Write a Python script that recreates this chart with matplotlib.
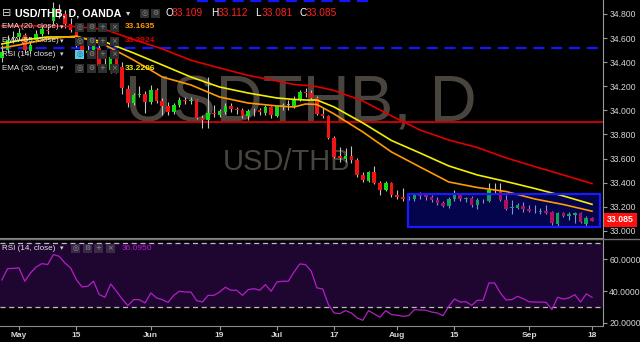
#!/usr/bin/env python3
"""
USD/THB daily candles with EMA 20/30/55 and RSI(14) - dark chart recreation
"""

import numpy as np
import pandas as pd
import matplotlib
matplotlib.use("Agg")
import matplotlib.pyplot as plt
from matplotlib.patches import Rectangle
from matplotlib.lines import Line2D

plt.rcParams['font.family'] = ['Liberation Sans', 'DejaVu Sans']

# trading days shown (weekdays)
dates = pd.bdate_range('2017-04-26', '2017-09-18')

opens = [34.435, 34.501, 34.601, 34.609, 34.626, 34.493, 34.584, 34.634, 34.667, 34.742,
         34.842, 34.800, 34.717, 34.667, 34.551, 34.476, 34.485, 34.518, 34.369, 34.335,
         34.443, 34.360, 34.178, 34.061, 34.128, 34.136, 34.070, 34.169, 34.078, 34.037,
         33.987, 34.045, 34.086, 34.078, 34.086, 33.937, 33.920, 33.978, 33.962, 33.987,
         34.037, 34.012, 34.003, 33.954, 33.991, 34.003, 33.978, 34.028, 33.954, 34.037,
         34.045, 34.037, 34.086, 34.153, 34.144, 34.103, 33.970, 33.954, 33.771, 33.622,
         33.597, 33.622, 33.588, 33.464, 33.414, 33.489, 33.397, 33.339, 33.397, 33.298,
         33.281, 33.265, 33.265, 33.298, 33.294, 33.281, 33.256, 33.232, 33.207, 33.265,
         33.298, 33.265, 33.273, 33.215, 33.252, 33.248, 33.339, 33.339, 33.256, 33.190,
         33.190, 33.207, 33.182, 33.169, 33.153, 33.165, 33.157, 33.057, 33.149, 33.124,
         33.132, 33.149, 33.057, 33.109]
highs = [34.543, 34.626, 34.659, 34.684, 34.642, 34.568, 34.667, 34.700, 34.709, 34.900,
         34.883, 34.833, 34.767, 34.692, 34.601, 34.559, 34.551, 34.551, 34.435, 34.468,
         34.468, 34.402, 34.211, 34.144, 34.203, 34.161, 34.211, 34.186, 34.103, 34.070,
         34.061, 34.111, 34.111, 34.111, 34.095, 33.962, 34.277, 34.045, 34.012, 34.061,
         34.061, 34.028, 34.020, 34.012, 34.020, 34.020, 34.045, 34.037, 34.045, 34.061,
         34.086, 34.119, 34.169, 34.186, 34.169, 34.119, 34.020, 33.962, 33.788, 33.696,
         33.688, 33.705, 33.605, 33.489, 33.497, 33.539, 33.414, 33.414, 33.406, 33.339,
         33.356, 33.290, 33.315, 33.323, 33.315, 33.298, 33.281, 33.248, 33.281, 33.339,
         33.315, 33.281, 33.290, 33.273, 33.265, 33.397, 33.397, 33.397, 33.298, 33.256,
         33.232, 33.240, 33.215, 33.215, 33.190, 33.215, 33.165, 33.157, 33.157, 33.157,
         33.157, 33.157, 33.124, 33.112]
lows = [34.402, 34.476, 34.559, 34.584, 34.476, 34.468, 34.568, 34.617, 34.634, 34.717,
        34.767, 34.684, 34.651, 34.526, 34.476, 34.460, 34.468, 34.327, 34.319, 34.310,
        34.310, 34.136, 34.028, 34.045, 34.111, 33.978, 34.053, 34.061, 33.962, 33.962,
        33.970, 34.028, 34.053, 34.053, 33.929, 33.854, 33.854, 33.945, 33.945, 33.970,
        33.987, 33.970, 33.937, 33.920, 33.954, 33.962, 33.962, 33.937, 33.945, 34.003,
        34.003, 34.020, 34.078, 34.111, 34.095, 33.962, 33.937, 33.763, 33.605, 33.572,
        33.572, 33.564, 33.447, 33.406, 33.406, 33.389, 33.298, 33.331, 33.281, 33.265,
        33.248, 33.256, 33.248, 33.265, 33.256, 33.240, 33.215, 33.198, 33.190, 33.248,
        33.248, 33.240, 33.198, 33.182, 33.232, 33.240, 33.315, 33.248, 33.173, 33.140,
        33.182, 33.157, 33.157, 33.149, 33.140, 33.140, 33.049, 33.032, 33.115, 33.090,
        33.066, 33.066, 33.041, 33.081]
closes = [34.485, 34.584, 34.609, 34.642, 34.501, 34.543, 34.634, 34.676, 34.659, 34.850,
          34.808, 34.717, 34.667, 34.543, 34.493, 34.493, 34.534, 34.369, 34.352, 34.443,
          34.369, 34.186, 34.061, 34.128, 34.136, 34.070, 34.169, 34.078, 34.037, 33.987,
          34.045, 34.086, 34.078, 34.086, 33.937, 33.920, 33.978, 33.970, 33.995, 34.037,
          34.012, 34.003, 33.954, 33.995, 33.999, 33.987, 34.028, 33.962, 34.037, 34.045,
          34.045, 34.095, 34.153, 34.144, 34.103, 33.970, 33.954, 33.771, 33.613, 33.605,
          33.622, 33.588, 33.464, 33.422, 33.489, 33.397, 33.339, 33.397, 33.298, 33.281,
          33.265, 33.273, 33.298, 33.290, 33.281, 33.256, 33.232, 33.207, 33.265, 33.306,
          33.265, 33.269, 33.215, 33.256, 33.244, 33.339, 33.335, 33.256, 33.182, 33.194,
          33.215, 33.178, 33.169, 33.161, 33.165, 33.149, 33.066, 33.149, 33.124, 33.140,
          33.149, 33.074, 33.107, 33.085]

rsi = [47.0, 54.1, 54.3, 54.6, 46.2, 51.4, 55.2, 57.3, 56.7, 63.0,
       61.9, 57.7, 54.6, 47.2, 42.6, 43.0, 46.2, 37.8, 36.1, 44.5,
       39.9, 35.0, 30.8, 34.6, 34.6, 32.5, 38.8, 35.7, 34.6, 32.9,
       37.3, 39.9, 39.4, 39.4, 34.0, 33.1, 37.3, 37.3, 39.4, 42.4,
       40.5, 40.5, 37.3, 40.9, 41.5, 40.5, 44.1, 39.9, 45.7, 46.2,
       46.2, 52.0, 57.1, 56.7, 52.5, 42.0, 41.3, 31.5, 26.2, 25.8,
       27.7, 26.2, 23.1, 21.6, 27.7, 25.6, 23.5, 27.7, 25.2, 24.8,
       24.1, 24.5, 28.3, 28.1, 27.9, 26.8, 26.2, 24.5, 30.4, 35.0,
       33.1, 33.3, 31.0, 34.2, 34.2, 45.1, 45.1, 38.8, 34.4, 34.6,
       36.7, 35.2, 33.3, 33.1, 33.1, 32.9, 28.3, 36.1, 35.0, 35.7,
       37.8, 33.1, 38.2, 36.095]

# EMA values at these dates
ema_dates = ['2017-04-26', '2017-05-01', '2017-05-08', '2017-05-15', '2017-05-22',
             '2017-05-29', '2017-06-05', '2017-06-12', '2017-06-19', '2017-06-26',
             '2017-07-03', '2017-07-06', '2017-07-10', '2017-07-12', '2017-07-17',
             '2017-07-24', '2017-07-31', '2017-08-07', '2017-08-14', '2017-08-21',
             '2017-08-28', '2017-09-04', '2017-09-11', '2017-09-18']
ema20 = [34.518, 34.543, 34.593, 34.617, 34.543, 34.418, 34.277, 34.211, 34.111, 34.061,
         34.037, 34.028, 34.053, 34.049, 33.970, 33.821, 33.655, 33.530, 33.406, 33.360,
         33.327, 33.265, 33.219, 33.1635]
ema30 = [34.551, 34.580, 34.609, 34.609, 34.568, 34.476, 34.377, 34.277, 34.194, 34.144,
         34.103, 34.091, 34.086, 34.086, 34.028, 33.896, 33.750, 33.646, 33.539, 33.464,
         33.410, 33.352, 33.290, 33.2206]
ema55 = [34.701, 34.701, 34.701, 34.696, 34.671, 34.588, 34.510, 34.416, 34.352, 34.290,
         34.244, 34.215, 34.207, 34.197, 34.165, 34.078, 33.954, 33.837, 33.754, 33.692,
         33.606, 33.534, 33.464, 33.3924]

# drawings
level_red = 33.90
level_dash = 34.515
level_dash_top = 34.908
dash_top_span = (34.1, 63.9)        # bar index span of the short top line
box_span = (70.9, 104.4)            # bar index span of the range box
box_low, box_high = 33.032, 33.306

tick_dates = ['2017-05-01', '2017-05-15', '2017-06-01', '2017-06-19', '2017-07-03',
              '2017-07-17', '2017-08-01', '2017-08-15', '2017-09-01', '2017-09-18']
tick_labels = ['May', '15', 'Jun', '19', 'Jul', '17', 'Aug', '15', 'Sep', '18']

W, H = 640, 342
BG = '#000000'
TXT = '#d6d6d6'


def fx(x):
    return x / W


def fy(y):
    return 1 - y / H


fig = plt.figure(figsize=(6.4, 3.42), dpi=100, facecolor=BG)
ax = fig.add_axes([0, fy(238), fx(603), 238 / H])
ax2 = fig.add_axes([0, fy(326), fx(603), (326 - 239) / H])
for a in (ax, ax2):
    a.set_facecolor(BG)
    a.spines['left'].set_visible(False)
    a.spines['top'].set_visible(False)
    a.spines['right'].set_color('#9a9a9a')
    a.spines['bottom'].set_color('#8a8a8a')
    a.yaxis.tick_right()
    a.tick_params(axis='y', colors='#9a9a9a', labelcolor=TXT, labelsize=6.2,
                  length=3, width=0.8, pad=1.5)
    a.set_xlim(-0.32, 104.92)

x = np.arange(len(dates))
o = np.array(opens)
c = np.array(closes)

# ---- main pane ----
ax.set_ylim(32.941, 34.916)
ax.set_yticks(np.arange(33.0, 34.81, 0.2))
ax.set_yticklabels([f'{v:.3f}' for v in np.arange(33.0, 34.81, 0.2)])
ax.tick_params(axis='x', bottom=False, labelbottom=False)

# watermark
ax.text(fx(301) / fx(603), 1 - 121 / 238, 'USDTHB, D', transform=ax.transAxes,
        ha='center', va='baseline', fontsize=47, color='#49453e', zorder=0)
ax.text(fx(287) / fx(603), 1 - 170 / 238, 'USD/THB', transform=ax.transAxes,
        ha='center', va='baseline', fontsize=21, color='#49453e', zorder=0)

# horizontal drawings
ax.axhline(level_red, color='#d40000', lw=1.3, zorder=2)
ax.axhline(level_dash, color='#1414ff', lw=1.6, ls=(0, (5, 3)), zorder=2)
ax.hlines(level_dash_top, *dash_top_span, color='#1414ff', lw=1.6,
          ls=(0, (5, 3)), zorder=2)

# candles
col = np.where(c > o, '#12dd12', np.where(c < o, '#f01414', '#a0a0a0'))
ax.vlines(x, lows, highs, color='#c4c4c4', lw=0.8, zorder=3)
body = np.maximum(np.abs(c - o), 0.006)
ax.bar(x, body, bottom=np.minimum(o, c), width=0.62, color=col, zorder=4)

# range box over the candles
ax.add_patch(Rectangle((box_span[0], box_low), box_span[1] - box_span[0],
                       box_high - box_low, facecolor='#1010ff', alpha=0.3,
                       edgecolor='none', zorder=5))
ax.add_patch(Rectangle((box_span[0], box_low), box_span[1] - box_span[0],
                       box_high - box_low, facecolor='none',
                       edgecolor='#1a1aff', lw=1.6, zorder=7))

# EMAs
ex = [dates.get_loc(pd.Timestamp(d)) for d in ema_dates]
ax.plot(ex, ema55, color='#e00000', lw=1.2, zorder=6)
ax.plot(ex, ema30, color='#f5ef00', lw=1.2, zorder=6)
ax.plot(ex, ema20, color='#ff9a00', lw=1.2, zorder=6)

# ---- RSI pane ----
ax2.set_ylim(18.0, 72.8)
ax2.axhspan(30, 70, color='#1e0630', zorder=0)
ax2.axhline(70, color='#bdbdbd', lw=0.9, ls=(0, (4, 3)), zorder=1)
ax2.axhline(30, color='#bdbdbd', lw=0.9, ls=(0, (4, 3)), zorder=1)
ax2.plot(x, rsi, color='#b41ec8', lw=0.9, zorder=3)
ax2.set_yticks([20, 40, 60])
ax2.set_yticklabels(['20.0000', '40.0000', '60.0000'])
tpos = [dates.get_loc(pd.Timestamp(d)) for d in tick_dates]
ax2.set_xticks(tpos)
ax2.set_xticklabels(tick_labels, fontweight='bold')
ax2.tick_params(axis='x', colors='#9a9a9a', labelcolor=TXT, labelsize=6,
                length=3, width=0.8, pad=1.5)

# pane separator
fig.add_artist(Line2D([0, 1], [fy(238.5), fy(238.5)], color='#707070', lw=1))

# last price tag
fig.add_artist(Rectangle((fx(604), fy(227)), 33 / W, 14 / H, facecolor='#ff1010',
                         edgecolor='none', transform=fig.transFigure))
fig.text(fx(620.5), fy(220), '33.085', color='white', fontsize=6.3,
         fontweight='bold', ha='center', va='center')


# ---- legends ----
def icon(xp, yp, glyph, bg='#2f2f2f', fg='#8c8c8c'):
    fig.add_artist(Rectangle((fx(xp), fy(yp + 4.5)), 9 / W, 9 / H, facecolor=bg,
                             edgecolor='none', transform=fig.transFigure, zorder=8))
    fig.text(fx(xp + 4.5), fy(yp), glyph, color=fg, fontsize=5, ha='center',
             va='center', family='DejaVu Sans', zorder=9)


fig.text(fx(2), fy(13), '\u229f', color=TXT, fontsize=8, va='center',
         family='DejaVu Sans')
fig.text(fx(15), fy(13), 'USD/THB, D, OANDA', color='white', fontsize=7.7,
         fontweight='bold', va='center')
fig.text(fx(126), fy(13), '\u25be', color=TXT, fontsize=6, va='center',
         family='DejaVu Sans')
icon(140, 13, '\u25ce')
icon(151, 13, '\u2699')
ohlc = [('O', '33.109', 165), ('H', '33.112', 211), ('L', '33.081', 255),
        ('C', '33.085', 299)]
for k, v, xp in ohlc:
    fig.text(fx(xp), fy(13), k, color='white', fontsize=7.3, va='center')
    fig.text(fx(xp + 7), fy(13), v, color='#ff2020', fontsize=7.3, va='center')

studies = [('EMA (20, close)', '33.1635', '#ff9a00', 27, False),
           ('EMA (55, close)', '33.3924', '#e00000', 41, False),
           ('RSI (14, close)', '', '', 54, True),
           ('EMA (30, close)', '33.2206', '#f5ef00', 68, False)]
for name, val, vc, yp, hl in studies:
    fig.text(fx(2), fy(yp), name, color='#e6e6e6', fontsize=5.8, va='center')
    fig.text(fx(60), fy(yp), '\u25be', color=TXT, fontsize=5, va='center',
             family='DejaVu Sans')
    if hl:
        icon(75, yp, '\u25ce', bg='#58c8e8', fg='#20607a')
    else:
        icon(75, yp, '\u25ce')
    icon(86.5, yp, '\u2699')
    icon(98, yp, '+')
    icon(109.5, yp, '\u00d7')
    if val:
        fig.text(fx(125), fy(yp), val, color=vc, fontsize=6, fontweight='bold',
                 va='center')

fig.text(fx(2), fy(248), 'RSI (14, close)', color='#e6e6e6', fontsize=5.8,
         va='center')
fig.text(fx(60), fy(248), '\u25be', color=TXT, fontsize=5, va='center',
         family='DejaVu Sans')
icon(71, 248, '\u25ce', bg='#3a2a48')
icon(82.5, 248, '\u2699', bg='#3a2a48')
icon(94, 248, '+', bg='#3a2a48')
icon(105.5, 248, '\u00d7', bg='#3a2a48')
fig.text(fx(122), fy(248), '36.0950', color='#b41ec8', fontsize=6, va='center')

fig.savefig('out.png', dpi=100, facecolor=BG)
